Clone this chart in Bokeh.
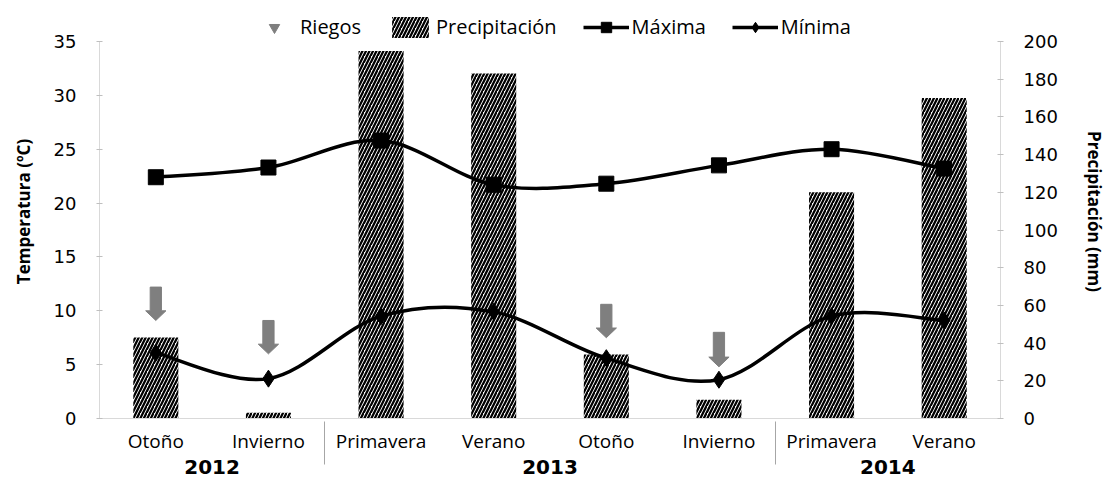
from bokeh.plotting import figure
from bokeh.models import (FactorRange, Range1d, LinearAxis, Legend, LegendItem,
                          FixedTicker, ColumnDataSource)
from bokeh.embed import file_html
from bokeh.resources import INLINE

# ---------------- data ----------------
years = ["2012", "2012", "2013", "2013", "2013", "2013", "2014", "2014"]
seasons = ["Otoño", "Invierno", "Primavera", "Verano", "Otoño", "Invierno", "Primavera", "Verano"]
precipitacion = [43, 3, 195, 183, 34, 10, 120, 170]          # mm (right axis)
maxima = [22.4, 23.3, 25.8, 21.7, 21.8, 23.5, 25.0, 23.2]   # ºC
minima = [6.1, 3.7, 9.5, 9.9, 5.6, 3.6, 9.5, 9.1]           # ºC
riegos_idx = [0, 1, 4, 5]            # seasons with irrigation
riegos_top = [12.2, 9.1, 10.6, 8.0]  # arrow start (ºC)
riegos_tip = [9.1, 6.0, 7.5, 4.8]    # arrow tip (ºC)
temp_ticks = [0, 5, 10, 15, 20, 25, 30, 35]
prec_ticks = [0, 20, 40, 60, 80, 100, 120, 140, 160, 180, 200]

factors = list(zip(years, seasons))
TICK_FONT = "Open Sans"
NAN = float("nan")

# layout: frame spans 414 px, of which the axis scale (0..35 / 0..200) uses 377 px;
# the space above holds the legend
HEADROOM = 414 / 377

def at(i, off):
    """categorical coordinate: factor i shifted by off (in category units)"""
    return (factors[i][0], factors[i][1], off)

xr = FactorRange(factors=factors, factor_padding=0, group_padding=0, range_padding=0)
p = figure(x_range=xr, y_range=Range1d(0, temp_ticks[-1] * HEADROOM), width=1108, height=479,
           output_backend="svg", toolbar_location=None,
           min_border_left=99, min_border_right=106, min_border_top=4, min_border_bottom=61,
           background_fill_color="white", border_fill_color="white")
p.outline_line_color = None
p.xgrid.grid_line_color = None
p.ygrid.grid_line_color = None
p.extra_y_ranges = {"precip": Range1d(0, prec_ticks[-1] * HEADROOM)}

# ---------------- bars ----------------
bars = p.vbar(x=factors, top=precipitacion, width=0.4, y_range_name="precip",
              fill_color="white", line_color=None,
              hatch_pattern="/", hatch_color="black", hatch_weight=2.3, hatch_scale=7)

# ---------------- smoothed lines (cubic Bezier, Catmull-Rom control points) ----------------
def smooth(ys):
    n = len(ys)
    d = dict(x0=[], y0=[], x1=[], y1=[], cx0=[], cy0=[], cx1=[], cy1=[])
    for i in range(n - 1):
        a = max(i - 1, 0)
        b = min(i + 2, n - 1)
        d["x0"].append(at(i, 0.0)); d["y0"].append(ys[i])
        d["x1"].append(at(i + 1, 0.0)); d["y1"].append(ys[i + 1])
        d["cx0"].append(at(i, (i + 1 - a) / 6))
        d["cy0"].append(ys[i] + (ys[i + 1] - ys[a]) / 6)
        d["cx1"].append(at(i + 1, -(b - i) / 6))
        d["cy1"].append(ys[i + 1] - (ys[b] - ys[i]) / 6)
    return ColumnDataSource(d)

for series in (maxima, minima):
    p.bezier(x0="x0", y0="y0", x1="x1", y1="y1", cx0="cx0", cy0="cy0",
             cx1="cx1", cy1="cy1", source=smooth(series),
             line_color="black", line_width=3.5)

max_pts = p.scatter(x=factors, y=maxima, marker="square", size=15, color="black")
min_pts = p.scatter(x=factors, y=minima, marker="diamond", size=17, color="black")

# ---------------- irrigation arrows ----------------
axs, ays = [], []
hw, hh, hd = 0.05, 0.09, 0.9
for i, t, b in zip(riegos_idx, riegos_top, riegos_tip):
    axs.append([at(i, -hw), at(i, hw), at(i, hw), at(i, hh), at(i, 0.0), at(i, -hh), at(i, -hw)])
    ays.append([t, t, b + hd, b + hd, b, b + hd, b + hd])
p.patches(xs=axs, ys=ays, fill_color="#7f7f7f", line_color="#7f7f7f")

# legend helpers (one invisible point each, so the legend can draw their glyphs)
leg_riegos = p.scatter(x=[factors[0]], y=[NAN], marker="inverted_triangle", size=20,
                       color="#7f7f7f")
leg_max_line = p.line(x=[factors[0]], y=[NAN], line_color="black", line_width=3.5)
leg_min_line = p.line(x=[factors[0]], y=[NAN], line_color="black", line_width=3.5)
leg_max_pt = p.scatter(x=[factors[0]], y=[NAN], marker="square", size=16, color="black")
leg_min_pt = p.scatter(x=[factors[0]], y=[NAN], marker="diamond", size=17, color="black")

legend = Legend(items=[
    LegendItem(label="Riegos", renderers=[leg_riegos]),
    LegendItem(label="Precipitación", renderers=[bars]),
    LegendItem(label="Máxima", renderers=[leg_max_line, leg_max_pt]),
    LegendItem(label="Mínima", renderers=[leg_min_line, leg_min_pt]),
], orientation="horizontal", location=(152, 378), border_line_color=None,
    background_fill_alpha=0, label_text_font=TICK_FONT, label_text_font_size="20px",
    label_text_color="black", glyph_width=46, glyph_height=26, spacing=26,
    padding=4, margin=0, label_standoff=3)
p.add_layout(legend, "center")

# ---------------- axes ----------------
xa = p.xaxis[0]
xa.major_label_text_font = TICK_FONT
xa.major_label_text_font_size = "19px"
xa.major_label_text_color = "black"
xa.group_text_font = "DejaVu Sans"
xa.group_text_font_size = "20px"
xa.group_text_font_style = "bold"
xa.group_text_color = "black"
xa.major_tick_line_color = None
xa.axis_line_color = "#d9d9d9"
xa.separator_line_color = "#a6a6a6"
xa.separator_line_width = 1
xa.major_label_standoff = 3

ya = p.yaxis[0]
ya.ticker = FixedTicker(ticks=temp_ticks)
ya.bounds = (temp_ticks[0], temp_ticks[-1])
ya.axis_label = "Temperatura (ºC)"
ya.axis_label_text_font = TICK_FONT
ya.axis_label_text_font_size = "17px"
ya.axis_label_text_font_style = "bold"
ya.axis_label_text_color = "black"
ya.major_label_text_font = "DejaVu Sans"
ya.major_label_text_font_size = "18px"
ya.major_label_text_color = "black"
ya.axis_line_color = "#d9d9d9"
ya.major_tick_line_color = "#bfbfbf"
ya.major_tick_in = 3
ya.major_tick_out = 3
ya.minor_tick_line_color = None
ya.major_label_standoff = 20
ya.axis_label_standoff = 16

ra = LinearAxis(y_range_name="precip", ticker=FixedTicker(ticks=prec_ticks),
                bounds=(prec_ticks[0], prec_ticks[-1]), axis_label="Precipitación (mm)")
ra.axis_label_text_font = TICK_FONT
ra.axis_label_text_font_size = "17px"
ra.axis_label_text_font_style = "bold"
ra.axis_label_text_color = "black"
ra.major_label_text_font = "DejaVu Sans"
ra.major_label_text_font_size = "18px"
ra.major_label_text_color = "black"
ra.axis_line_color = "#d9d9d9"
ra.major_tick_line_color = "#bfbfbf"
ra.major_tick_in = 3
ra.major_tick_out = 3
ra.minor_tick_line_color = None
ra.major_label_standoff = 20
ra.axis_label_standoff = 22
p.add_layout(ra, "right")

open("out.html", "w").write(file_html(p, INLINE))
